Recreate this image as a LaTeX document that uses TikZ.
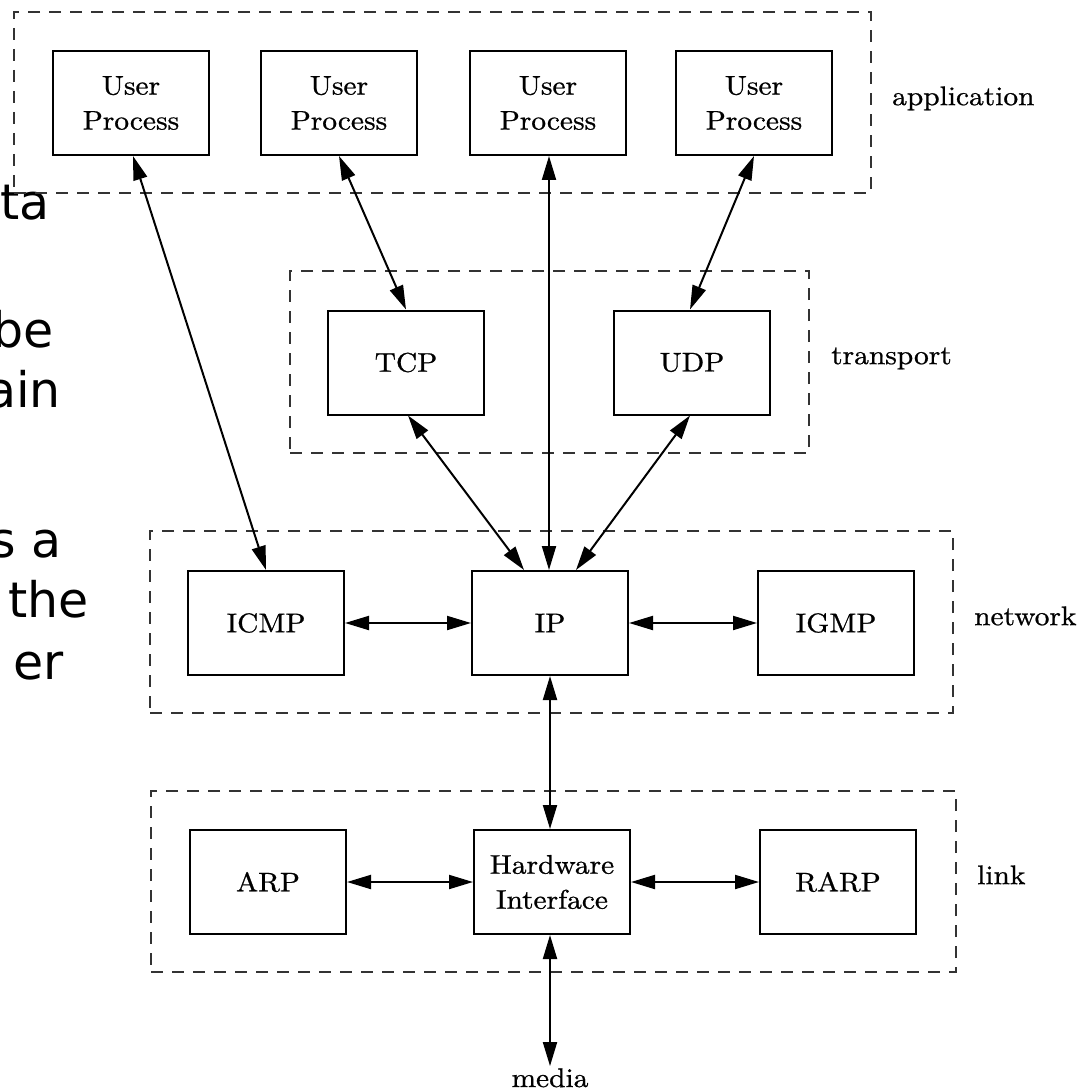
\documentclass[tikz,border=0pt]{standalone}
\usepackage{fontspec}
\setmainfont{lmroman10-regular}[Extension=.otf, FakeStretch=1.09, FakeBold=0.8]
\newfontfamily\leakfont{DejaVu Sans}
\usetikzlibrary{arrows.meta}
\begin{document}
\begin{tikzpicture}[x=1pt,y=-1pt,
  proc/.style={draw=black, line width=2pt, minimum width=156pt, minimum height=104pt,
    inner sep=0pt, align=center, font=\fontsize{27}{35}\selectfont},
  layer/.style={draw=black!80, line width=2.4pt, dash pattern=on 12pt off 9pt},
  lbl/.style={anchor=mid west, inner sep=0pt, font=\fontsize{27}{30}\selectfont},
  leak/.style={anchor=base east, inner sep=0pt, font=\leakfont\fontsize{49}{58}\selectfont},
  biarrow/.style={{Triangle[length=24pt,width=14pt]}-{Triangle[length=24pt,width=14pt]}, line width=2pt}
]
\useasboundingbox (0,0) rectangle (1088,1091);
% text of the page behind the figure
\node[leak] (lk1) at (50,220) {ta};
\node[leak] (lk2) at (54,347) {be};
\node[leak] (lk3) at (61,407) {ain};
\node[leak] (lk4) at (62,557) {s a};
\node[leak] (lk5) at (89,617) {the};
\node[leak] (lk6) at (64,679) {er};
% layer frames
\node[layer, minimum width=857pt, minimum height=181pt, inner sep=0pt] (appL) at (442.5,102.5) {};
\node[layer, minimum width=519pt, minimum height=182pt, inner sep=0pt] (trL) at (549.5,362) {};
\node[layer, minimum width=803pt, minimum height=182pt, inner sep=0pt] (netL) at (551.5,622) {};
\node[layer, minimum width=805pt, minimum height=181pt, inner sep=0pt] (linkL) at (553.5,881.5) {};
% layer names
\node[lbl] (tapp) at (892,103) {application};
\node[lbl] (ttr) at (831,362) {transport};
\node[lbl] (tnet) at (974,623) {network};
\node[lbl] (tlink) at (977,882) {link};
% boxes
\node[proc] (up1) at (131,103) {User\\Process};
\node[proc] (up2) at (339,103) {User\\Process};
\node[proc] (up3) at (548,103) {User\\Process};
\node[proc] (up4) at (754,103) {User\\Process};
\node[proc] (tcp) at (406,362.5) {TCP};
\node[proc] (udp) at (692,362.5) {UDP};
\node[proc] (icmp) at (266,623) {ICMP};
\node[proc] (ip) at (550,623) {IP};
\node[proc] (igmp) at (836,623) {IGMP};
\node[proc] (arp) at (268,882) {ARP};
\node[proc] (hw) at (552,882) {Hardware\\Interface};
\node[proc] (rarp) at (838,882) {RARP};
\node[anchor=base, inner sep=2pt, font=\fontsize{27}{30}\selectfont] (media) at (550,1087) {media};
% connectors
\draw[biarrow] ([xshift=2pt]up1.south) -- (icmp.north);
\draw[biarrow] (up2.south) -- (tcp.north);
\draw[biarrow] ([xshift=1pt]up3.south) -- ([xshift=-1pt]ip.north);
\draw[biarrow] (up4.south) -- ([xshift=-2pt]udp.north);
\draw[biarrow] ([xshift=2pt]tcp.south) -- ([xshift=-26pt]ip.north);
\draw[biarrow] ([xshift=-2pt]udp.south) -- ([xshift=26pt]ip.north);
\draw[biarrow] (icmp.east) -- (ip.west);
\draw[biarrow] (ip.east) -- (igmp.west);
\draw[biarrow] (ip.south) -- ([xshift=-2pt]hw.north);
\draw[biarrow] (arp.east) -- (hw.west);
\draw[biarrow] (hw.east) -- (rarp.west);
\draw[biarrow] ([xshift=-2pt]hw.south) -- (media.north);
\end{tikzpicture}
\end{document}
